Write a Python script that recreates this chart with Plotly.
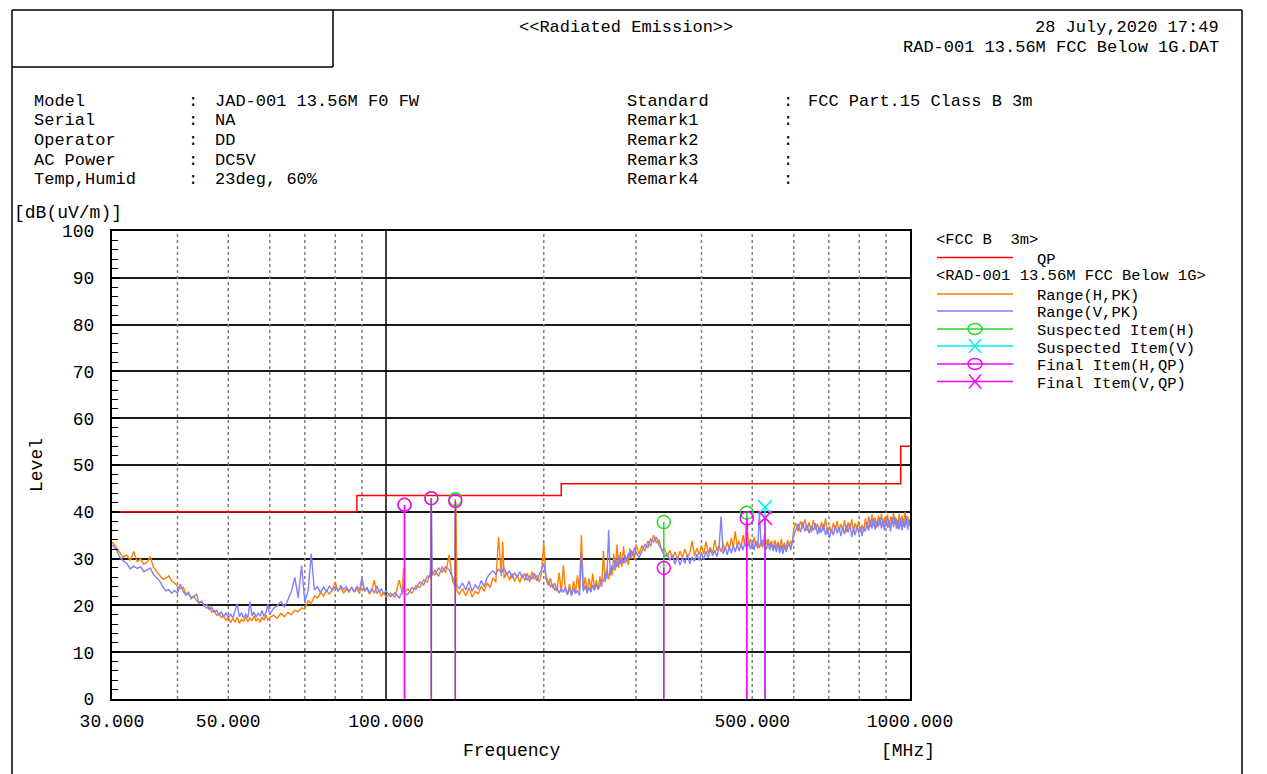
import math
import plotly.graph_objects as go

FONT = "Liberation Mono"

# ---------------- data ----------------
F_A = [30, 30.5, 31, 31.5, 32, 32.5, 33, 33.5, 34, 34.5, 35, 35.5, 36, 36.5, 37, 37.5, 38, 38.5, 39, 39.5, 40]
H_A = [33.6, 32.4, 31.2, 30.3, 30.8, 29.6, 31.5, 29.4, 29.9, 28.8, 29.2, 30.4, 28.1, 27.3, 26.6, 25.6, 25.8, 26.3, 25.2, 24.8, 24.0]
V_A = [32.9, 32.2, 30.4, 29.5, 29.0, 27.8, 28.4, 27.9, 28.3, 27.2, 27.6, 28.0, 26.6, 25.9, 25.2, 24.0, 23.1, 23.4, 22.6, 23.2, 22.6]

F_B1 = [40.5, 41, 41.5, 42, 42.5, 43, 43.5, 44, 44.5, 45, 45.5, 46, 46.5, 47, 47.5, 48, 48.5, 49, 49.5, 50,
        50.5, 51, 51.5, 52, 52.5, 53, 53.5, 54, 54.5, 55, 55.5, 56, 56.5, 57, 57.5, 58, 58.5, 59, 59.5, 60]
H_B1 = [23.6, 23.9, 22.7, 22.4, 21.6, 22.0, 21.0, 20.6, 20.9, 19.8, 19.4, 19.8, 18.6, 18.9, 17.9, 18.3, 17.4, 17.8, 16.8, 17.6,
        16.3, 17.2, 16.4, 17.5, 16.2, 17.0, 16.6, 17.6, 16.5, 17.3, 16.7, 17.8, 16.6, 17.2, 16.4, 17.5, 16.8, 17.9, 16.9, 17.4]
V_B1 = [24.6, 23.0, 22.2, 22.8, 21.4, 21.9, 22.4, 20.4, 20.9, 19.8, 20.2, 19.1, 19.6, 18.5, 19.0, 17.9, 18.6, 17.6, 18.3, 17.4,
        18.2, 17.3, 18.8, 20.3, 17.6, 18.4, 17.3, 18.1, 17.4, 20.8, 17.8, 18.6, 17.5, 18.3, 17.7, 18.9, 17.6, 18.4, 20.2, 18.0]

F_B2 = [61, 62, 63, 64, 65, 66, 67, 68, 69, 70, 71, 72, 73, 74, 75, 76, 77, 78, 79, 80,
        81, 82, 83, 84, 85, 86, 87, 88, 89, 90, 91, 92, 93, 94, 95, 96, 97, 98, 99, 100]
H_B2 = [17.9, 17.2, 18.3, 17.6, 18.5, 18.0, 19.0, 18.6, 19.5, 19.2, 21.0, 20.4, 22.0, 21.6, 22.8, 22.0, 23.2, 22.4, 23.4, 25.0,
        23.0, 23.8, 22.6, 23.5, 22.8, 23.9, 22.9, 23.6, 22.5, 25.2, 23.0, 23.7, 22.4, 23.3, 25.4, 22.5, 23.2, 21.9, 22.8, 21.8]
V_B2 = [19.4, 19.9, 20.8, 19.7, 21.2, 23.0, 26.0, 21.6, 28.5, 20.8, 23.0, 31.0, 23.3, 24.0, 22.8, 23.9, 23.0, 24.1, 23.2, 24.0,
        23.1, 24.2, 23.4, 24.0, 23.0, 23.8, 22.9, 24.1, 23.2, 26.0, 23.1, 23.8, 22.7, 23.6, 22.6, 24.2, 22.9, 23.5, 22.4, 23.1]

F_C = [102, 104, 106, 107.5, 108, 108.5, 110, 112, 114, 116, 118, 120, 121.5, 122, 122.5, 124, 126, 128, 130, 132,
       134, 135.5, 136, 136.5, 138, 140, 142, 144, 146, 148, 150, 152, 154, 156, 158, 160, 162, 164, 166, 167,
       168, 170, 172, 174, 176, 178, 180, 182, 184, 186, 188, 190, 192, 194, 196, 198, 200, 202, 204, 206,
       208, 210, 212, 214, 216, 218, 220, 222, 224, 226, 228, 230, 232, 234, 236, 238, 240, 242, 244, 246,
       248, 250, 252, 254, 256, 258, 260, 262, 264, 266, 268, 270, 272, 274, 276, 278, 280, 282, 284, 286,
       288, 290, 292, 294, 296, 298, 300]
H_C = [22.6, 21.8, 25.4, 22.4, 28.0, 22.8, 23.5, 22.6, 24.2, 23.8, 25.5, 25.0, 27.0, 29.0, 26.4, 27.6, 26.2, 28.3, 27.0, 30.8,
       25.2, 24.0, 42.0, 23.2, 22.4, 23.6, 22.0, 23.8, 21.8, 23.0, 22.5, 24.1, 23.0, 24.8, 23.8, 25.9, 25.0, 34.6, 26.2, 33.6,
       25.8, 27.0, 25.4, 26.8, 25.1, 26.5, 24.9, 26.6, 25.3, 26.9, 25.0, 27.2, 25.6, 26.4, 25.0, 26.8, 33.3, 25.6, 24.3, 25.8,
       23.6, 24.8, 23.0, 27.0, 22.8, 28.5, 23.4, 22.2, 24.6, 22.0, 25.2, 22.8, 26.4, 23.0, 35.0, 23.4, 26.0, 23.0, 25.8, 23.2,
       26.8, 23.6, 25.4, 23.3, 26.2, 24.0, 31.6, 25.0, 27.8, 25.6, 28.0, 26.4, 31.0, 27.4, 33.0, 28.0, 31.4, 28.2, 32.6, 29.0,
       30.2, 28.6, 32.2, 30.0, 31.6, 29.8, 33.0]
V_C = [21.9, 22.7, 21.6, 22.9, 24.5, 22.5, 22.3, 23.8, 23.4, 25.0, 24.4, 26.3, 26.0, 42.8, 27.2, 26.5, 28.0, 27.1, 28.3, 27.6,
       26.0, 24.6, 25.0, 24.3, 23.6, 24.8, 23.3, 25.2, 23.0, 24.4, 23.5, 25.3, 24.0, 26.0, 26.8, 27.4, 26.6, 27.8, 26.9, 27.5,
       28.1, 26.5, 27.4, 25.8, 27.0, 26.0, 27.2, 25.9, 26.8, 25.4, 26.3, 25.6, 26.9, 25.2, 26.6, 27.5, 29.0, 26.2, 25.1, 24.0,
       24.6, 23.2, 23.9, 22.6, 23.6, 22.8, 23.9, 22.4, 23.5, 22.2, 23.6, 22.5, 23.2, 22.1, 31.2, 23.0, 24.2, 22.6, 23.9, 22.8,
       24.4, 23.2, 24.6, 23.4, 24.2, 25.6, 25.0, 27.0, 25.6, 36.1, 26.4, 28.6, 27.6, 30.0, 28.2, 30.6, 28.8, 30.2, 29.0, 30.8,
       29.4, 31.2, 30.0, 31.8, 30.6, 32.4, 31.4]

F_D1 = [304, 308, 312, 316, 320, 324, 328, 332, 336, 340, 344, 348, 352, 356, 360, 364, 368, 372, 376, 380,
        384, 388, 392, 396, 400, 404, 408, 412, 416, 420, 424, 428, 432, 436, 440, 444, 448, 452, 456, 460,
        464, 468, 472, 476, 480, 484, 488, 492, 496, 500, 504, 508, 512, 516, 520, 524, 528, 532, 536, 540,
        544, 548, 552, 556, 560, 564, 568, 572, 576, 580, 584, 588, 592, 596, 600]
H_D1 = [31.0, 32.8, 31.6, 33.8, 32.6, 35.0, 33.4, 34.0, 31.6, 32.2, 30.4, 31.8, 30.0, 31.4, 29.8, 31.6, 30.2, 32.0, 30.4, 31.2,
        33.8, 30.6, 32.2, 30.8, 32.8, 31.0, 33.6, 31.2, 32.4, 31.0, 34.0, 31.6, 32.8, 31.4, 33.2, 31.8, 33.6, 32.0, 34.4, 32.4,
        35.8, 32.6, 33.8, 32.2, 35.0, 32.8, 39.2, 32.6, 34.2, 32.4, 34.6, 32.8, 33.6, 32.2, 34.0, 32.4, 35.4, 33.0, 34.2, 32.6,
        33.8, 32.0, 34.0, 32.4, 33.6, 32.0, 34.2, 32.2, 33.4, 31.8, 34.0, 32.6, 33.8, 33.0, 36.5]
V_D1 = [30.2, 31.6, 33.0, 32.4, 34.2, 33.6, 34.6, 32.8, 32.0, 30.4, 31.0, 29.6, 30.8, 28.8, 30.4, 28.6, 30.2, 29.0, 30.8, 28.9,
        30.4, 29.4, 31.0, 29.6, 31.2, 29.8, 31.6, 30.2, 32.0, 30.6, 31.8, 30.4, 32.2, 39.0, 31.0, 32.4, 30.8, 32.6, 31.2, 32.8,
        31.4, 33.0, 31.6, 33.2, 31.8, 33.4, 32.2, 33.6, 32.0, 33.6, 31.8, 33.8, 32.2, 39.7, 32.6, 34.0, 33.0, 32.0, 33.4, 31.8,
        33.2, 31.6, 33.0, 31.4, 33.4, 31.2, 32.8, 31.0, 33.0, 31.4, 32.6, 33.4, 31.8, 33.6, 35.0]

F_D2 = [606, 612, 618, 624, 630, 636, 642, 648, 654, 660, 666, 672, 678, 684, 690, 696, 702, 708, 714, 720,
        726, 732, 738, 744, 750, 756, 762, 768, 774, 780, 786, 792, 798, 804, 810, 816, 822, 828, 834, 840,
        846, 852, 858, 864, 870, 876, 882, 888, 894, 900, 906, 912, 918, 924, 930, 936, 942, 948, 954, 960,
        966, 972, 978, 984, 990, 996, 1000]
H_D2 = [37.6, 35.8, 38.0, 36.4, 38.4, 36.0, 37.8, 35.6, 38.2, 36.2, 37.4, 35.4, 37.8, 36.0, 38.6, 35.2, 37.0, 35.6, 37.6, 36.2,
        38.0, 35.8, 37.4, 36.0, 38.2, 35.6, 37.8, 36.4, 38.4, 35.8, 37.6, 36.2, 38.0, 35.6, 37.2, 35.8, 38.6, 36.4, 39.0, 36.8,
        39.4, 37.0, 38.8, 36.6, 39.2, 37.2, 39.6, 36.8, 38.8, 37.0, 39.4, 36.6, 39.0, 37.4, 39.8, 37.2, 38.6, 36.4, 39.6, 37.0,
        39.2, 36.8, 40.0, 37.4, 39.0, 37.2, 38.4]
V_D2 = [36.2, 37.4, 35.6, 37.8, 35.8, 37.2, 35.4, 37.0, 36.0, 37.6, 35.2, 36.8, 35.6, 37.4, 35.0, 36.6, 34.4, 36.2, 35.0, 37.0,
        35.4, 36.8, 34.8, 36.6, 35.2, 37.2, 35.6, 37.4, 34.6, 36.4, 35.0, 37.0, 35.4, 36.8, 34.8, 36.6, 35.8, 37.8, 36.0, 38.2,
        36.4, 38.6, 36.2, 38.0, 36.8, 38.8, 36.4, 38.4, 36.0, 38.6, 36.6, 38.2, 35.8, 38.8, 36.8, 39.0, 36.4, 38.2, 36.2, 38.6,
        36.0, 38.4, 36.6, 39.2, 36.2, 38.0, 37.0]

for f_, h_, v_ in [(F_A, H_A, V_A), (F_B1, H_B1, V_B1), (F_B2, H_B2, V_B2),
                   (F_C, H_C, V_C), (F_D1, H_D1, V_D1), (F_D2, H_D2, V_D2)]:
    assert len(f_) == len(h_) == len(v_), (len(f_), len(h_), len(v_))

FREQ = F_A + F_B1 + F_B2 + F_C + F_D1 + F_D2
H_PK = H_A + H_B1 + H_B2 + H_C + H_D1 + H_D2
V_PK = V_A + V_B1 + V_B2 + V_C + V_D1 + V_D2

LIMIT_F = [30, 88, 216, 960, 1000]
LIMIT_QP = [40, 43.5, 46, 54, 54]

SUSP_H_F = [108.48, 122.04, 135.60, 339.00, 488.16]
SUSP_H_L = [41.5, 42.9, 42.7, 37.8, 39.8]
SUSP_V_F = [528.84]
SUSP_V_L = [41.0]
FINAL_H_F = [108.48, 122.04, 135.60, 339.00, 488.16]
FINAL_H_L = [41.5, 42.9, 42.3, 28.0, 38.6]
FINAL_V_F = [528.84]
FINAL_V_L = [38.7]

X_TICKS = [30, 50, 100, 500, 1000]
X_TICK_TEXT = ["30.000", "50.000", "100.000", "500.000", "1000.000"]
GRID_DOT = [40, 50, 60, 70, 80, 90, 200, 300, 400, 500, 600, 700, 800, 900]
GRID_SOLID = [100]

C_H = "#FF8000"
C_V = "#8080FF"
C_LIM = "#FF0000"
C_SH = "#22DD22"
C_SV = "#00EEEE"
C_F = "#FF00FF"

# page offset of the plot div (body margin) and plot area in page pixels
OFF = 8
FIG_W, FIG_H = 1267 - OFF, 774 - OFF
L, R, T, B = 112, 910, 231, 699


def PX(x):
    return (x - L) / float(R - L)


def PY(y):
    return (B - y) / float(B - T)


def vlines(fs, top=100):
    xs, ys = [], []
    for f in fs:
        xs += [f, f, None]
        ys += [0, top, None]
    return xs, ys


def drops(fs, ls):
    xs, ys = [], []
    for f, l in zip(fs, ls):
        xs += [f, f, None]
        ys += [l, 0, None]
    return xs, ys


fig = go.Figure()

gx, gy = vlines(GRID_DOT)
fig.add_trace(go.Scatter(x=gx, y=gy, mode="lines", hoverinfo="skip",
                         line=dict(color="#808080", width=1.5, dash="dot")))
gx, gy = vlines(GRID_SOLID)
fig.add_trace(go.Scatter(x=gx, y=gy, mode="lines", hoverinfo="skip",
                         line=dict(color="black", width=1.5)))

fig.add_trace(go.Scatter(x=FREQ, y=H_PK, mode="lines", name="Range(H,PK)",
                         line=dict(color=C_H, width=1.4)))
fig.add_trace(go.Scatter(x=FREQ, y=V_PK, mode="lines", name="Range(V,PK)",
                         line=dict(color=C_V, width=1.4)))
fig.add_trace(go.Scatter(x=LIMIT_F, y=LIMIT_QP, mode="lines", name="QP",
                         line=dict(color=C_LIM, width=1.5, shape="hv")))

for fs, ls, col, sym in [(SUSP_H_F, SUSP_H_L, C_SH, "circle-open"),
                         (SUSP_V_F, SUSP_V_L, C_SV, "x-thin-open"),
                         (FINAL_H_F, FINAL_H_L, C_F, "circle-open"),
                         (FINAL_V_F, FINAL_V_L, C_F, "x-thin-open")]:
    dx, dy = drops(fs, ls)
    fig.add_trace(go.Scatter(x=dx, y=dy, mode="lines", hoverinfo="skip",
                             line=dict(color=col, width=1.5)))
    fig.add_trace(go.Scatter(x=fs, y=ls, mode="markers",
                             marker=dict(symbol=sym, size=13 if "circle" in sym else 14,
                                         color=col, line=dict(color=col, width=1.5))))

# ---------------- annotations ----------------
ann = []
HS = 17    # header / label font size
LS = 15.5  # legend font size


def txt(x, y, s, anchor="left", size=HS, angle=0):
    ann.append(dict(x=PX(x), y=PY(y), xref="paper", yref="paper", text=s, showarrow=False,
                    xanchor=anchor, yanchor="middle", textangle=angle, borderpad=0,
                    font=dict(family=FONT, size=size, color="black")))


txt(626, 27, "&lt;&lt;Radiated Emission&gt;&gt;", "center")
txt(1220, 27, "28 July,2020 17:49", "right")
txt(1220, 47, "RAD-001 13.56M FCC Below 1G.DAT", "right")

ROW_Y = [101, 121, 140, 160, 180]
LEFT_LAB = ["Model", "Serial", "Operator", "AC Power", "Temp,Humid"]
LEFT_VAL = ["JAD-001 13.56M F0 FW", "NA", "DD", "DC5V", "23deg, 60%"]
RIGHT_LAB = ["Standard", "Remark1", "Remark2", "Remark3", "Remark4"]
RIGHT_VAL = ["FCC Part.15 Class B 3m", "", "", "", ""]
for y, a, b, c, d in zip(ROW_Y, LEFT_LAB, LEFT_VAL, RIGHT_LAB, RIGHT_VAL):
    txt(33, y, a)
    txt(193, y, ":", "center")
    if b:
        txt(214, y, b)
    txt(626, y, c)
    txt(788, y, ":", "center")
    if d:
        txt(807, y, d)

txt(13, 213, "[dB(uV/m)]", size=18)
txt(37, 465, "Level", "center", size=18, angle=-90)
txt(511, 751, "Frequency", "center", size=18)
txt(880, 751, "[MHz]", size=18)

# legend (manual)
txt(935, 240, "&lt;FCC B&nbsp;&nbsp;3m&gt;", size=LS)
txt(1036, 259.5, "QP", size=LS)
txt(935, 276, "&lt;RAD-001 13.56M FCC Below 1G&gt;", size=LS)
LEG_ITEMS = [("Range(H,PK)", 294, 296, C_H, None),
             ("Range(V,PK)", 311, 313, C_V, None),
             ("Suspected Item(H)", 329, 331, C_SH, "o"),
             ("Suspected Item(V)", 346, 348.5, C_SV, "x"),
             ("Final Item(H,QP)", 364, 366, C_F, "o"),
             ("Final Item(V,QP)", 381.5, 384, C_F, "x")]

shapes = []


def seg(x0, y0, x1, y1, col="black", w=1.5):
    shapes.append(dict(type="line", xref="paper", yref="paper",
                       x0=PX(x0), y0=PY(y0), x1=PX(x1), y1=PY(y1),
                       line=dict(color=col, width=w)))


seg(937, 257.5, 1013, 257.5, C_LIM, 1.5)
for label, ly, ty, col, mk in LEG_ITEMS:
    seg(937, ly, 1013, ly, col, 1.5)
    txt(1036, ty, label, size=LS)
    if mk == "o":
        shapes.append(dict(type="circle", xref="paper", yref="paper",
                           x0=PX(968), x1=PX(982), y0=PY(ly + 5.5), y1=PY(ly - 5.5),
                           line=dict(color=col, width=1.5)))
    elif mk == "x":
        seg(969, ly - 7, 981, ly + 7, col, 1.5)
        seg(969, ly + 7, 981, ly - 7, col, 1.5)

# page frame
seg(12, 10, 1242, 10)
seg(12, 10, 12, 774)
seg(1242, 10, 1242, 774)
seg(12, 67, 333, 67)
seg(333, 10, 333, 67)

fig.update_layout(
    width=FIG_W, height=FIG_H, autosize=False,
    margin=dict(l=L - OFF, r=FIG_W - (R - OFF), t=T - OFF, b=FIG_H - (B - OFF), pad=0),
    paper_bgcolor="white", plot_bgcolor="white",
    showlegend=False,
    font=dict(family=FONT, color="black", size=18),
    annotations=ann, shapes=shapes,
    xaxis=dict(type="log", range=[math.log10(30), 3], tickvals=X_TICKS, ticktext=X_TICK_TEXT,
               showgrid=False, zeroline=False, showline=True, linecolor="black", linewidth=2,
               mirror=True, ticks="", ticklabelstandoff=4,
               tickfont=dict(family=FONT, size=18, color="black")),
    yaxis=dict(range=[0, 100], tick0=0, dtick=10, showgrid=True, gridcolor="#1a1a1a", gridwidth=1.5,
               zeroline=False, showline=True, linecolor="black", linewidth=2, mirror=True,
               ticks="inside", ticklen=8, tickwidth=1.5, tickcolor="black", ticklabelstandoff=12,
               minor=dict(dtick=2, ticks="inside", ticklen=6, tickwidth=1.2, tickcolor="black", showgrid=False),
               tickfont=dict(family=FONT, size=18, color="black")),
)

fig.write_html("out.html")
